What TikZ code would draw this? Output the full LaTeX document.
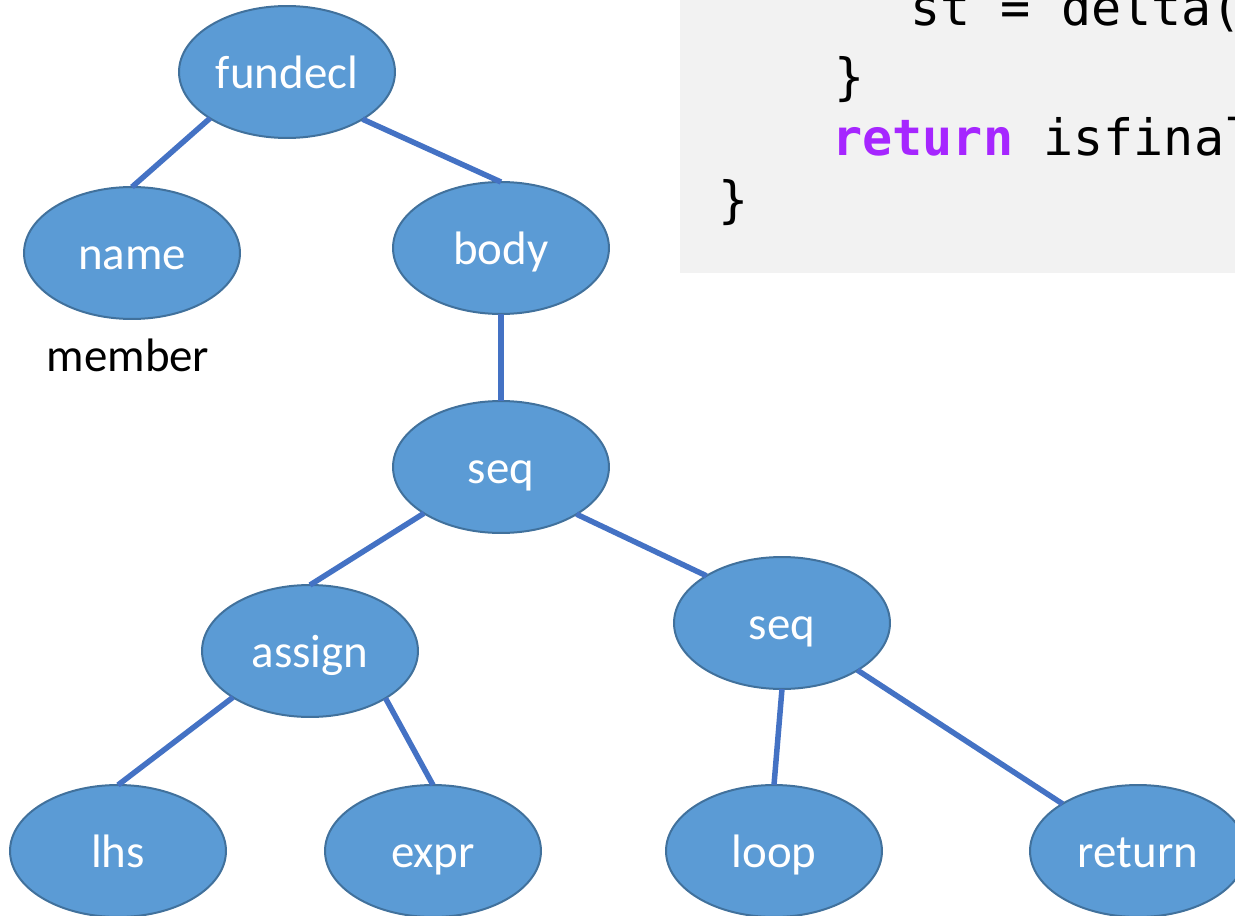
\documentclass[tikz,border=0pt]{standalone}
\usepackage{fontspec}
\setmainfont{Carlito}
\newfontfamily\codefont{DejaVu Sans Mono}
\usetikzlibrary{shapes.geometric}
\definecolor{nodefill}{HTML}{5B9BD5}
\definecolor{nodeline}{HTML}{41719C}
\definecolor{edgecol}{HTML}{4472C4}
\definecolor{codebg}{HTML}{F2F2F2}
\definecolor{kwcol}{HTML}{A626FF}
\tikzset{
  astnode/.style={ellipse, draw=nodeline, line width=0.04cm, fill=nodefill,
    minimum width=4.32cm, minimum height=2.64cm, inner sep=0pt, outer sep=0pt,
    text=white, font=\fontsize{26.7pt}{32pt}\selectfont,
    text height=23pt, text depth=3.7pt},
  edge/.style={draw=edgecol, line width=0.11cm},
  codeline/.style={anchor=base west, inner sep=0pt, font=\codefont\fontsize{28.5pt}{34pt}\selectfont},
  plain/.style={inner sep=0pt, font=\fontsize{26.7pt}{32pt}\selectfont, text height=21pt, text depth=5.7pt}
}
\begin{document}
\begin{tikzpicture}[x=0.02cm, y=-0.02cm]
  \useasboundingbox (0,0) rectangle (1235,916);
  \clip (0,0) rectangle (1235,916);

  % code listing panel
  \fill[codebg] (680,-10) rectangle (1245,273);
  \node[codeline] (l1) at (910,26) {st = delta(};
  \node[codeline] (l2) at (834,94) {\}};
  \node[codeline] (l3) at (832,155) {\textcolor{kwcol}{\bfseries return} isfinal};
  \node[codeline] (l4) at (718,217) {\}};

  % tree nodes
  \node[astnode] (fundecl) at (287,72) {fundecl};
  \node[astnode] (name)    at (132,253) {name};
  \node[astnode] (body)    at (501,248) {body};
  \node[astnode] (seqA)    at (501,467) {seq};
  \node[astnode] (assign)  at (310,651) {assign};
  \node[astnode] (seqB)    at (782,623) {seq};
  \node[astnode] (lhs)     at (118,851) {lhs};
  \node[astnode] (expr)    at (433,851) {expr};
  \node[astnode] (loop)    at (774,851) {loop};
  \node[astnode] (ret)     at (1138,851) {return};

  \node[plain] (member) at (128,358) {member};

  % connectors
  \draw[edge] (fundecl.211.43) -- (name.north);
  \draw[edge] (fundecl.328.57) -- (body.north);
  \draw[edge] (body.south) -- (seqA.north);
  \draw[edge] (seqA.211.43) -- (assign.north);
  \draw[edge] (seqA.328.57) -- (seqB.148.57);
  \draw[edge] (assign.211.43) -- (lhs.north);
  \draw[edge] (assign.328.57) -- (expr.north);
  \draw[edge] (seqB.south) -- (loop.north);
  \draw[edge] (seqB.328.57) -- (ret.148.57);
\end{tikzpicture}
\end{document}
